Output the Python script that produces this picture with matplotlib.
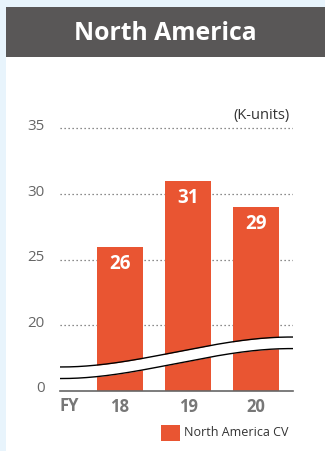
#!/usr/bin/env python3
"""North America CV unit sales, FY18-20, broken y axis."""
import matplotlib.pyplot as plt
import matplotlib.transforms as mtransforms
import numpy as np
from matplotlib.patches import Rectangle

plt.rcParams.update({
    "font.family": ["Open Sans", "DejaVu Sans"],
})

years = ["18", "19", "20"]
units = [26, 31, 29]
ytick_values = [0, 20, 25, 30, 35]
ytick_labels = ["0", "20", "25", "30", "35"]
series_name = "North America CV"
title = "North America"
unit_note = "(K-units)"

ORANGE = "#E95532"
HEADER = "#595757"
BG_BLUE = "#E8F4FC"
GRID = "#666666"
TICK = "#666666"

W, H = 325, 451
ZERO_POS = 15.0          # where "0" sits on the broken axis


def ypos(v):
    return ZERO_POS if v == 0 else v


fig = plt.figure(figsize=(W / 100, H / 100), dpi=100)
fig.patch.set_facecolor(BG_BLUE)

# white panel + dark header
fig.patches.append(Rectangle((6 / W, 0), 1 - 6 / W, 1 - 7 / H,
                             transform=fig.transFigure, facecolor="white",
                             edgecolor="none", zorder=-2))
fig.patches.append(Rectangle((6 / W, 1 - 57 / H), 1 - 6 / W, 50 / H,
                             transform=fig.transFigure, facecolor=HEADER,
                             edgecolor="none", zorder=-1))
fig.text((6 + W) / 2 / W, 1 - 33 / H, title, color="white", fontsize=17.8,
         fontweight="bold", ha="center", va="center")

# axes: x 60..293 px, y 100..391 px
ax = fig.add_axes([60 / W, (H - 391) / H, 233 / W, 291 / H], zorder=2)
ax.set_facecolor("none")
ax.set_xlim(-0.88, 2.54)
ax.set_ylim(ZERO_POS, ZERO_POS + 291 / 13.13)
for s in ax.spines.values():
    s.set_visible(False)

x = np.arange(len(years))
for yv in ytick_values[1:]:
    ax.axhline(yv, color=GRID, linestyle=(0, (1, 2.2)), linewidth=0.9, zorder=1)

ax.bar(x, [v - ZERO_POS for v in units], bottom=ZERO_POS, width=0.68,
       color=ORANGE, zorder=2)
for xi, v in zip(x, units):
    ax.annotate(f"{v}", (xi, v), xytext=(0, -17), textcoords="offset pixels",
                ha="center", va="center", color="white", fontsize=13.5,
                fontweight="bold", zorder=5)

# break band (gentle S across the whole width)
xs = np.linspace(-0.88, 2.54, 300)
t = np.clip((xs + 0.853) / (2.5 + 0.853), 0, 1)
s = t * t * (3 - 2 * t)
upper = 16.83 + (19.11 - 16.83) * s
lower = 15.95 + (18.23 - 15.95) * s
ax.fill_between(xs, lower, upper, color="white", zorder=3, linewidth=0)
ax.plot(xs, upper, color="black", linewidth=1.0, zorder=4)
ax.plot(xs, lower, color="black", linewidth=1.0, zorder=4)

ax.axhline(ZERO_POS, color=TICK, linewidth=1.2, zorder=4, clip_on=False)

ax.set_yticks([ypos(v) for v in ytick_values])
ax.set_yticklabels(ytick_labels, color=TICK, fontsize=10.8)
ax.set_xticks(x)
ax.set_xticklabels(years, color="#777777", fontsize=12, fontweight="bold")
ax.tick_params(axis="both", length=0)
ax.tick_params(axis="y", pad=11)
ax.tick_params(axis="x", pad=5)
# y labels sit a little above their gridlines
lift = mtransforms.ScaledTranslation(0, 4 / 100, fig.dpi_scale_trans)
for lbl in ax.get_yticklabels():
    lbl.set_transform(lbl.get_transform() + lift)
ax.text(-0.75, -0.05, "FY", transform=ax.get_xaxis_transform(),
        color="#777777", fontsize=12, fontweight="bold", ha="center", va="center")
fig.text(290 / W, 1 - 116 / H, unit_note, fontsize=10.5, color="#333333",
         ha="right", va="center")

# legend
fig.patches.append(Rectangle((161 / W, 1 - 441 / H), 19 / W, 16 / H,
                             transform=fig.transFigure, facecolor=ORANGE,
                             edgecolor="none", zorder=2))
fig.text(184 / W, 1 - 433 / H, series_name, fontsize=9, color="#333333",
         ha="left", va="center")

fig.savefig("out.png", dpi=100, facecolor=fig.get_facecolor())
